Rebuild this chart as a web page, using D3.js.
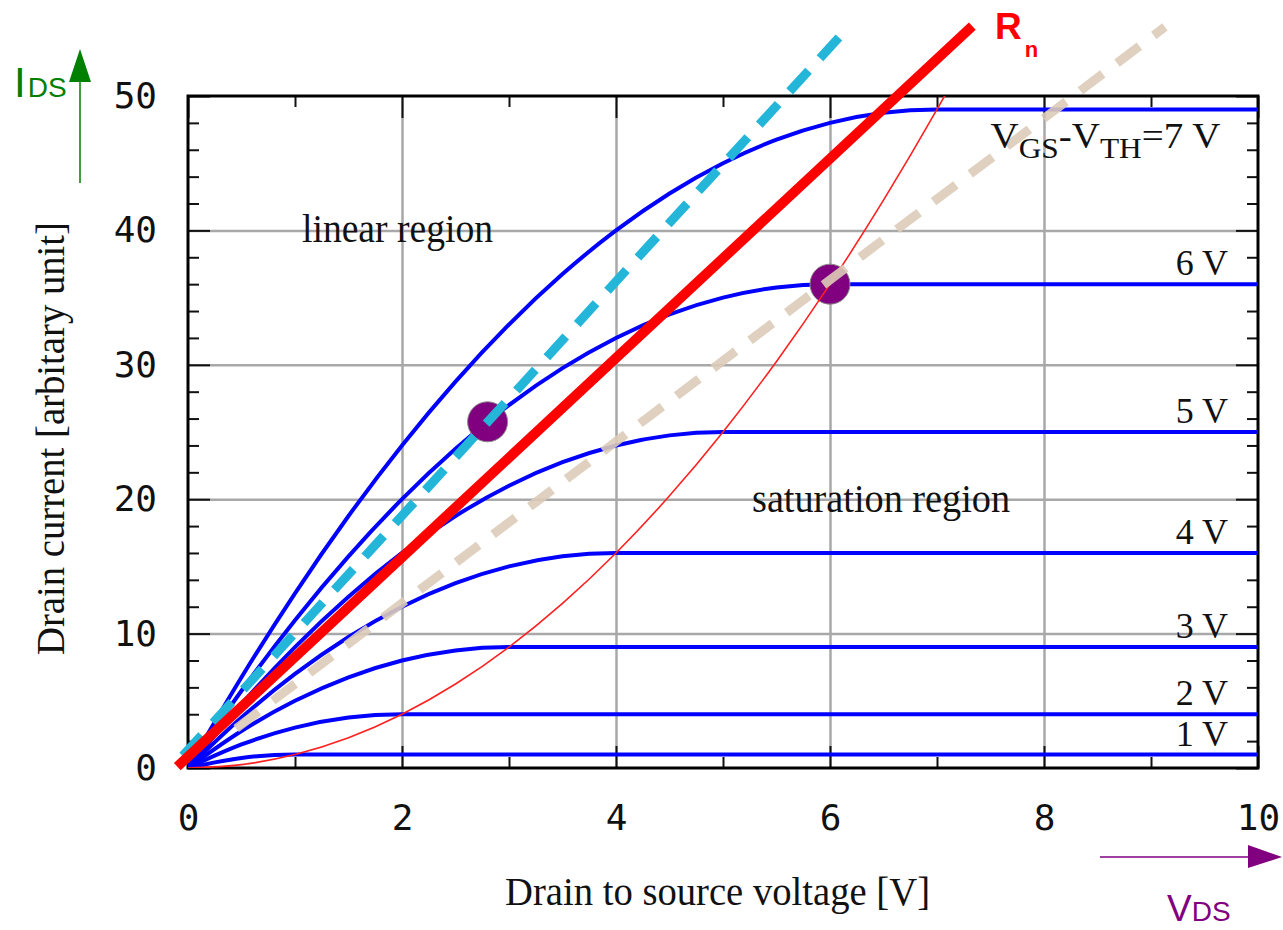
<!DOCTYPE html>
<html>
<head>
<meta charset="utf-8">
<script src="https://cdn.jsdelivr.net/npm/d3@7"></script>
<style>
	body { margin: 0; background: #fff; }
	.grid line { stroke: #a8a8a8; stroke-width: 2.5; }
	.grid path, .ticks path { display: none; }
	.ticks line { stroke: #111; stroke-width: 2; }
	.ticks text { font-family: "DejaVu Sans Mono", monospace; font-size: 36px; fill: #111; }
	.serif { font-family: "Liberation Serif", "DejaVu Serif", serif; fill: #111; }
</style>
</head>
<body>
<div id="chart"></div>
<script>

// Drain-source voltage samples (V)
var vds = [0, 0.5, 1, 1.5, 2, 2.5, 3, 3.5, 4, 4.5, 5, 5.5, 6, 6.5, 7, 10];

// Drain current per V_GS - V_TH curve
var ids1 = [0, 0.75, 1, 1, 1, 1, 1, 1, 1, 1, 1, 1, 1, 1, 1, 1];
var ids2 = [0, 1.75, 3, 3.75, 4, 4, 4, 4, 4, 4, 4, 4, 4, 4, 4, 4];
var ids3 = [0, 2.75, 5, 6.75, 8, 8.75, 9, 9, 9, 9, 9, 9, 9, 9, 9, 9];
var ids4 = [0, 3.75, 7, 9.75, 12, 13.75, 15, 15.75, 16, 16, 16, 16, 16, 16, 16, 16];
var ids5 = [0, 4.75, 9, 12.75, 16, 18.75, 21, 22.75, 24, 24.75, 25, 25, 25, 25, 25, 25];
var ids6 = [0, 5.75, 11, 15.75, 20, 23.75, 27, 29.75, 32, 33.75, 35, 35.75, 36, 36, 36, 36];
var ids7 = [0, 6.75, 13, 18.75, 24, 28.75, 33, 36.75, 40, 42.75, 45, 46.75, 48, 48.75, 49, 49];

var curveLabels = ["1 V", "2 V", "3 V", "4 V", "5 V", "6 V"];
var curveSat = [1, 4, 9, 16, 25, 36];

// Saturation boundary (thin red)
var satV = [0, 0.5, 1, 1.5, 2, 2.5, 3, 3.5, 4, 4.5, 5, 5.5, 6, 6.5, 7, 7.5];
var satI = [0, 0.25, 1, 2.25, 4, 6.25, 9, 12.25, 16, 20.25, 25, 30.25, 36, 42.25, 49, 56.25];

// Straight lines: Rn (thick red), cyan dashed, tan dashed
var rnV = [-0.1, 7.33], rnI = [0.1, 55.2];
var cyanV = [-0.05, 6.18], cyanI = [0.9, 55.2];
var tanV = [0.45, 9.13], tanI = [2.94, 55.14];

// Operating points
var dotV = [2.8, 6], dotI = [25.76, 36];

// Axis ticks
var xMajor = [0, 2, 4, 6, 8, 10];
var xMinor = [1, 3, 5, 7, 9];
var yMajor = [0, 10, 20, 30, 40, 50];
var yMinor = [2, 4, 6, 8, 12, 14, 16, 18, 22, 24, 26, 28, 32, 34, 36, 38, 42, 44, 46, 48];

var margin = {top: 96, right: 25, bottom: 162, left: 188};
var width = 1283 - margin.left - margin.right,
	height = 930 - margin.top - margin.bottom;

var svg = d3.select("#chart").append("svg")
	.attr("width", 1283)
	.attr("height", 930);

var g = svg.append("g")
	.attr("transform", "translate(" + margin.left + "," + margin.top + ")");

g.append("defs").append("clipPath")
	.attr("id", "clip")
	.append("rect")
	.attr("width", width)
	.attr("height", height);

var x = d3.scaleLinear().domain([0, 10]).range([0, width]);
var y = d3.scaleLinear().domain([0, 50]).range([height, 0]);

// Grid
g.append("g").attr("class", "grid")
	.attr("transform", "translate(0," + height + ")")
	.call(d3.axisBottom(x).tickValues([2, 4, 6, 8]).tickSize(-height).tickFormat(""));
g.append("g").attr("class", "grid")
	.call(d3.axisLeft(y).tickValues([10, 20, 30, 40]).tickSize(-width).tickFormat(""));

// Ticks on all four sides, pointing inward
g.append("g").attr("class", "ticks")
	.attr("transform", "translate(0," + height + ")")
	.call(d3.axisBottom(x).tickValues(xMajor).tickSize(-22).tickPadding(36));
g.append("g").attr("class", "ticks")
	.attr("transform", "translate(0," + height + ")")
	.call(d3.axisBottom(x).tickValues(xMinor).tickSize(-11).tickFormat(""));
g.append("g").attr("class", "ticks")
	.call(d3.axisTop(x).tickValues(xMajor).tickSize(-22).tickFormat(""));
g.append("g").attr("class", "ticks")
	.call(d3.axisTop(x).tickValues(xMinor).tickSize(-11).tickFormat(""));
g.append("g").attr("class", "ticks")
	.call(d3.axisLeft(y).tickValues(yMajor).tickSize(-22).tickPadding(31));
g.append("g").attr("class", "ticks")
	.call(d3.axisLeft(y).tickValues(yMinor).tickSize(-11).tickFormat(""));
g.append("g").attr("class", "ticks")
	.attr("transform", "translate(" + width + ",0)")
	.call(d3.axisRight(y).tickValues(yMajor).tickSize(-22).tickFormat(""));
g.append("g").attr("class", "ticks")
	.attr("transform", "translate(" + width + ",0)")
	.call(d3.axisRight(y).tickValues(yMinor).tickSize(-11).tickFormat(""));

// Frame
g.append("rect")
	.attr("width", width)
	.attr("height", height)
	.attr("fill", "none")
	.attr("stroke", "#000")
	.attr("stroke-width", 3);

var smooth = d3.line()
	.x(function(d) { return x(d[0]); })
	.y(function(d) { return y(d[1]); })
	.curve(d3.curveMonotoneX);

var straight = d3.line()
	.x(function(d) { return x(d[0]); })
	.y(function(d) { return y(d[1]); });

// Output characteristic curves
var series = [ids1, ids2, ids3, ids4, ids5, ids6, ids7];
g.append("g").attr("clip-path", "url(#clip)")
	.selectAll(".curve")
	.data(series)
	.enter().append("path")
	.attr("class", "curve")
	.attr("d", function(d) { return smooth(d3.zip(vds, d)); })
	.attr("fill", "none")
	.attr("stroke", "#0000ff")
	.attr("stroke-width", 4);

// Operating points
g.selectAll(".dot")
	.data(d3.zip(dotV, dotI))
	.enter().append("circle")
	.attr("class", "dot")
	.attr("cx", function(d) { return x(d[0]); })
	.attr("cy", function(d) { return y(d[1]); })
	.attr("r", 20)
	.attr("fill", "#800080")
	.attr("stroke", "#8a8a8a")
	.attr("stroke-width", 1);

// Saturation boundary
g.append("path")
	.attr("clip-path", "url(#clip)")
	.attr("d", smooth(d3.zip(satV, satI)))
	.attr("fill", "none")
	.attr("stroke", "#ff2020")
	.attr("stroke-width", 1.6);

// Tan dashed line
g.append("path")
	.attr("d", straight(d3.zip(tanV, tanI)))
	.attr("stroke", "#dccbb9")
	.attr("stroke-width", 9)
	.attr("stroke-dasharray", "28,18")
	.style("opacity", 0.9);

// Cyan dashed line
g.append("path")
	.attr("d", straight(d3.zip(cyanV, cyanI)))
	.attr("stroke", "#23b6d9")
	.attr("stroke-width", 9)
	.attr("stroke-dasharray", "28,17");

// Rn line
g.append("path")
	.attr("d", straight(d3.zip(rnV, rnI)))
	.attr("stroke", "#ff0000")
	.attr("stroke-width", 10);

// Curve labels
g.selectAll(".clabel")
	.data(curveLabels)
	.enter().append("text")
	.attr("class", "clabel serif")
	.attr("x", x(9.72))
	.attr("y", function(d, i) { return y(curveSat[i]) - 9; })
	.attr("text-anchor", "end")
	.style("font-size", "36px")
	.text(function(d) { return d; });

var vovLabel = g.append("text")
	.attr("class", "serif")
	.attr("x", x(7.5))
	.attr("y", y(49) + 39)
	.attr("textLength", 230)
	.attr("lengthAdjust", "spacingAndGlyphs")
	.style("font-size", "36px");
vovLabel.append("tspan").text("V");
vovLabel.append("tspan").attr("dy", 10).style("font-size", "29px").text("GS");
vovLabel.append("tspan").attr("dy", -10).text("-V");
vovLabel.append("tspan").attr("dy", 10).style("font-size", "29px").text("TH");
vovLabel.append("tspan").attr("dy", -10).text("=7 V");

// Region labels
g.append("text")
	.attr("class", "serif")
	.attr("x", 114).attr("y", 146)
	.attr("textLength", 191)
	.attr("lengthAdjust", "spacingAndGlyphs")
	.style("font-size", "40px")
	.text("linear region");

g.append("text")
	.attr("class", "serif")
	.attr("x", 564).attr("y", 416)
	.attr("textLength", 258)
	.attr("lengthAdjust", "spacingAndGlyphs")
	.style("font-size", "40px")
	.text("saturation region");

// Axis titles
svg.append("text")
	.attr("class", "serif")
	.attr("x", 505).attr("y", 905)
	.attr("textLength", 425)
	.attr("lengthAdjust", "spacingAndGlyphs")
	.style("font-size", "40px")
	.text("Drain to source voltage [V]");

svg.append("text")
	.attr("class", "serif")
	.attr("transform", "translate(64,655) rotate(-90)")
	.attr("textLength", 433)
	.attr("lengthAdjust", "spacingAndGlyphs")
	.style("font-size", "40px")
	.text("Drain current [arbitary unit]");

// Rn label
var rn = svg.append("text")
	.attr("x", 995).attr("y", 39)
	.style("font-family", "Liberation Sans, Arial, sans-serif")
	.style("font-weight", "bold")
	.style("font-size", "37px")
	.attr("fill", "#ff0000");
rn.append("tspan").text("R");
rn.append("tspan").attr("dx", 3).attr("dy", 18).style("font-size", "22px").text("n");

// IDS arrow (green)
svg.append("line")
	.attr("x1", 80).attr("y1", 183).attr("x2", 80).attr("y2", 80)
	.attr("stroke", "#008000").attr("stroke-width", 1.5);
svg.append("path")
	.attr("d", "M80,49 L69,82 L91,82 Z")
	.attr("fill", "#008000");
var idsLabel = svg.append("text")
	.attr("x", 14).attr("y", 97)
	.style("font-family", "Liberation Sans, Arial, sans-serif")
	.attr("fill", "#008000");
idsLabel.append("tspan").style("font-size", "42px").text("I");
idsLabel.append("tspan").attr("dx", 2).style("font-size", "28px").text("DS");

// VDS arrow (purple)
svg.append("line")
	.attr("x1", 1100).attr("y1", 857).attr("x2", 1252).attr("y2", 857)
	.attr("stroke", "#800080").attr("stroke-width", 1.5);
svg.append("path")
	.attr("d", "M1282,857 L1248,845 L1248,868 Z")
	.attr("fill", "#800080");
var vdsLabel = svg.append("text")
	.attr("x", 1167).attr("y", 921)
	.style("font-family", "Liberation Sans, Arial, sans-serif")
	.attr("fill", "#800080");
vdsLabel.append("tspan").style("font-size", "37px").text("V");
vdsLabel.append("tspan").style("font-size", "28px").text("DS");

</script>
</body>
</html>
